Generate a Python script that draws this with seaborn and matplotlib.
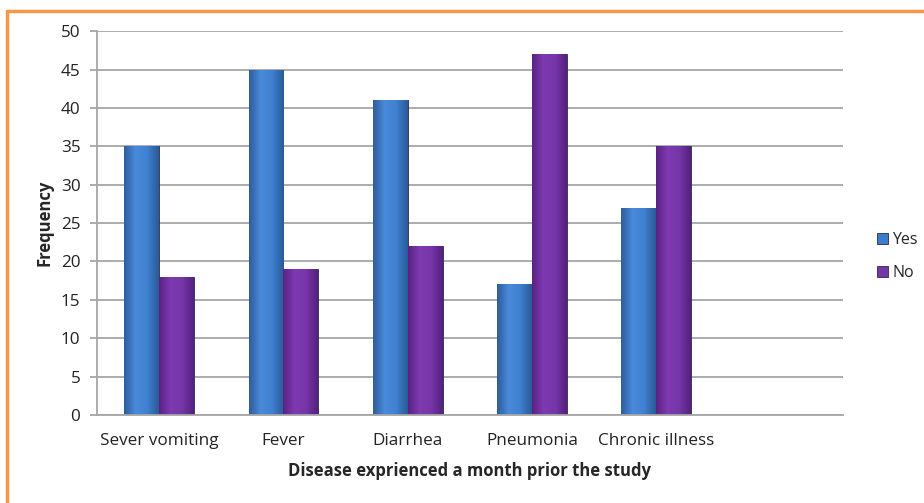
import numpy as np
import pandas as pd
import seaborn as sns
import matplotlib
matplotlib.use('Agg')
import matplotlib.pyplot as plt
from matplotlib.colors import LinearSegmentedColormap
from matplotlib.lines import Line2D
from matplotlib.patches import Patch

# data
diseases = ['Sever vomiting', 'Fever', 'Diarrhea', 'Pneumonia', 'Chronic illness']
yes_counts = [35, 45, 41, 17, 27]
no_counts = [18, 19, 22, 47, 35]
slots = diseases + ['']   # excel left an empty 6th category

df = pd.DataFrame({
    'Disease': diseases * 2,
    'Frequency': yes_counts + no_counts,
    'Answer': ['Yes'] * len(diseases) + ['No'] * len(diseases),
})

blue = '#3C7DCB'
purple = '#7634A6'

sns.set_style('white')
plt.rcParams['font.family'] = ['Open Sans', 'DejaVu Sans']

fig = plt.figure(figsize=(9.24, 5.03), dpi=100)
ax = fig.add_axes([0.105, 0.175, 0.807, 0.763])

sns.barplot(data=df, x='Disease', y='Frequency', hue='Answer', order=slots,
            hue_order=['Yes', 'No'], palette=[blue, purple], width=0.56,
            edgecolor='#2a2a4a', linewidth=0.6, ax=ax, legend=False)

# excel-like shading on the bars
grad = {
    blue: LinearSegmentedColormap.from_list('b', ['#2D5E9E', '#4A8ADA', '#3F80D0', '#2A5A98']),
    purple: LinearSegmentedColormap.from_list('p', ['#5A2382', '#7E3AB2', '#7636A8', '#552080']),
}
for i, p in enumerate(ax.patches):
    if p.get_height() <= 0:
        continue
    x0, y0 = p.get_x(), p.get_y()
    w, h = p.get_width(), p.get_height()
    c = blue if i < len(diseases) else purple
    im = ax.imshow(np.linspace(0, 1, 64).reshape(1, -1), cmap=grad[c], aspect='auto',
                   extent=(x0, x0 + w, y0, y0 + h), zorder=p.get_zorder() + 0.1)
    im.set_clip_path(p)

ax.set_aspect('auto')
ax.set_xlim(-0.5, 5.5)
ax.set_ylim(0, 50)
ax.set_yticks(range(0, 51, 5))
ax.yaxis.grid(True, color='#A6A6A6', linewidth=1.3)
ax.set_axisbelow(True)

ax.set_xticks(range(len(slots)))
ax.set_xticklabels(slots)
ax.set_xticks(np.arange(-0.5, 6.0, 1.0), minor=True)
ax.tick_params(axis='x', which='major', length=0, pad=13, labelsize=12.3, colors='#222222')
ax.tick_params(axis='x', which='minor', length=5, width=1.3, color='#A6A6A6', direction='out')
ax.tick_params(axis='y', length=5, width=1.3, color='#A6A6A6', labelsize=12.3,
               labelcolor='#222222', pad=7, left=True)

for s in ['top', 'right']:
    ax.spines[s].set_visible(False)
for s in ['left', 'bottom']:
    ax.spines[s].set_color('#A6A6A6')
    ax.spines[s].set_linewidth(1.3)

ax.set_xlabel('Disease exprienced a month prior the study', fontsize=12,
              fontweight='bold', labelpad=9)
ax.set_ylabel('Frequency', fontsize=12, fontweight='bold', labelpad=5)

handles = [Patch(facecolor=blue, edgecolor='#2a2a4a', linewidth=0.6),
           Patch(facecolor=purple, edgecolor='#2a2a4a', linewidth=0.6)]
fig.legend(handles, ['Yes', 'No'], loc='center left', bbox_to_anchor=(0.94, 0.49),
           frameon=False, fontsize=11.5, handlelength=0.7, handleheight=0.7,
           handletextpad=0.3, labelspacing=1.05, borderpad=0)

# orange frame (only top and left edges are visible in the crop)
fig.add_artist(Line2D([0.0076, 1.0], [0.978, 0.978], transform=fig.transFigure,
                      color='#F79646', linewidth=2.5))
fig.add_artist(Line2D([0.0076, 0.0076], [0.0, 0.978], transform=fig.transFigure,
                      color='#F79646', linewidth=2.5))

fig.savefig('out.png', dpi=100)
